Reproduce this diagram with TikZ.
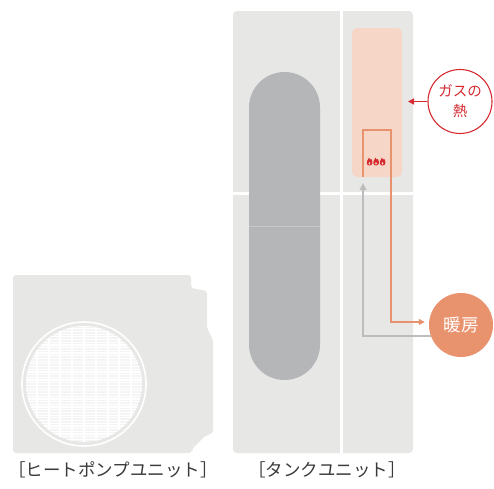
\documentclass[tikz,border=0pt]{standalone}
\usepackage{fontspec}
\newfontfamily\jp{Noto Sans CJK JP}
\usetikzlibrary{calc,arrows.meta}
\definecolor{unitgray}{HTML}{E7E7E6}
\definecolor{tankgray}{HTML}{B5B6B8}
\definecolor{paleorange}{HTML}{F6D6C6}
\definecolor{hotorange}{HTML}{E9936E}
\definecolor{gasred}{HTML}{D52B30}
\definecolor{coolgray}{HTML}{BDBDBD}
\definecolor{labelgray}{HTML}{3A3A3A}
\def\flame(#1,#2){\fill[gasred, shift={(#1,#2)}] (0,0) .. controls (-3.4,0) and (-3.6,-4) .. (-0.4,-8) .. controls (-0.3,-5.6) and (1.1,-5.2) .. (1.7,-6.6) .. controls (3.6,-4.2) and (3.4,0) .. (0,0) -- cycle;
	\fill[paleorange, shift={(#1,#2)}] (0,-0.8) .. controls (-1.3,-0.8) and (-1.2,-2.4) .. (0,-3.6) .. controls (1.2,-2.4) and (1.3,-0.8) .. (0,-0.8) -- cycle;}

\begin{document}
\begin{tikzpicture}[x=1pt, y=-1pt,
	unitlabel/.style={text=labelgray, font=\jp\fontsize{17.5}{20}\selectfont, inner sep=0pt},
	hotline/.style={draw=hotorange, line width=2pt, -{Triangle[length=6pt, width=6pt]}},
	coolline/.style={draw=coolgray, line width=2pt, -{Triangle[length=7pt, width=6.5pt]}},
	gasline/.style={draw=gasred, line width=1.4pt, -{Triangle[length=6pt, width=6pt]}}]
		%%%%% START %%%%%
		\useasboundingbox (0,0) rectangle (494,488);
		
		% heat pump unit
		\fill[unitgray, rounded corners=3pt] (13,275) -- (191,275) -- (191,288) -- (207,291) -- (207,328) -- (213,340) -- (213,433) -- (205,436) -- (192,449) -- (192,453) -- (13,453) -- cycle;
		\begin{scope}
			\clip (84,384) circle (58);
			\fill[white!55!unitgray] (84,384) circle (58);
			\foreach \y in {326,328.7,...,444}
				\draw[white, line width=1.2pt] (20,\y) -- (150,\y);
			\foreach \x in {-5,...,5}
				\draw[white, line width=2pt] (84+11.8*\x,320) -- (84+11.8*\x,450);
		\end{scope}
		\draw[white, line width=1.6pt] (84,384) circle (62);
		
		% tank unit
		\fill[unitgray, rounded corners=4pt] (233,11) rectangle (413,453);
		\fill[white] (340,11) rectangle (343,453);
		\fill[white] (233,191.5) rectangle (413,194.5);
		\fill[tankgray, rounded corners=35.5pt] (249,72) rectangle (320,380);
		\draw[white!25!tankgray, line width=0.8pt] (249,226) -- (320,226);
		\fill[paleorange, rounded corners=5pt] (352,28) rectangle (402,177);
		
		\flame(369.5,165.5)
		\flame(376,165.5)
		\flame(382.5,165.5)
		
		% gas and heating circles
		\node[circle, draw=gasred, line width=1.1pt, fill=white, minimum size=64pt, inner sep=0pt, text=gasred, align=center, font=\jp\fontsize{14.5}{20}\selectfont] (gas) at (460,101.5) {ガスの\\熱};
		\node[circle, fill=hotorange, minimum size=64pt, inner sep=0pt, text=white, font=\jp\fontsize{17.5}{20}\selectfont] (heat) at (461,325) {暖房};
		
		\coordinate (gastip) at (408,101.5);
		\coordinate (hotturn) at (391,322);
		\coordinate (coolend) at (363,183);
		
		\draw[gasline] (gas.west) -- (gastip);
		\draw[hotline, shorten >=4pt] (363,177) |- (391,130) -- (hotturn) -- (hotturn -| heat.west);
		\draw[coolline] (heat.200) -| (coolend);
		
		% labels
		\node[unitlabel] (hplabel) at (113,470) {［ヒートポンプユニット］};
		\node[unitlabel] (tanklabel) at (327,470) {［タンクユニット］};
		
		%%%%% END %%%%%
	\end{tikzpicture}
\end{document}
